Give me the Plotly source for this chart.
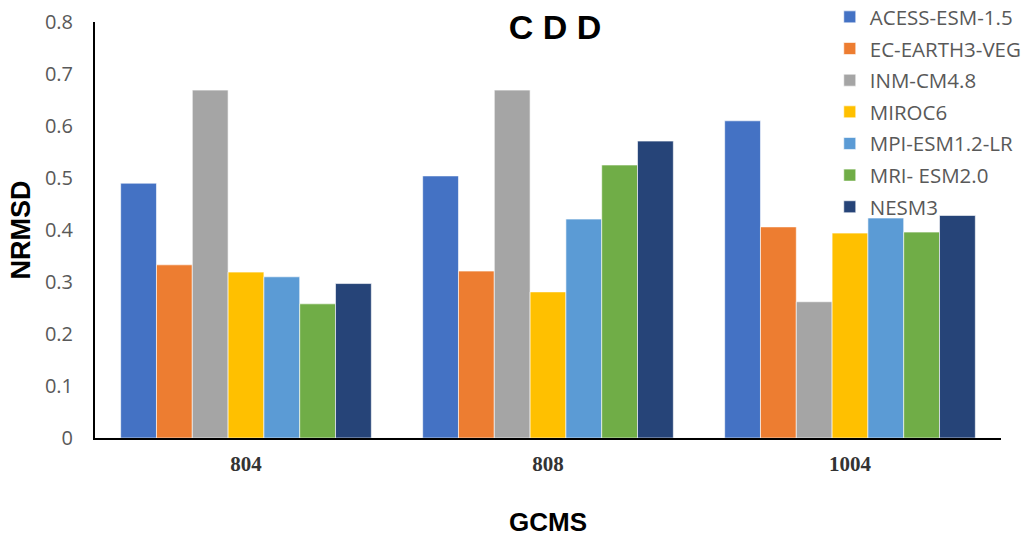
import plotly.graph_objects as go

# GCM station groups and model NRMSD scores for the CDD index
stations = ["804", "808", "1004"]
models = ["ACESS-ESM-1.5", "EC-EARTH3-VEG", "INM-CM4.8", "MIROC6",
          "MPI-ESM1.2-LR", "MRI- ESM2.0", "NESM3"]
acess = [0.490, 0.504, 0.610]
ec_earth = [0.333, 0.321, 0.406]
inm = [0.669, 0.669, 0.262]
miroc = [0.319, 0.281, 0.394]
mpi = [0.310, 0.421, 0.423]
mri = [0.258, 0.525, 0.396]
nesm = [0.297, 0.571, 0.428]
y_ticks = [0, 0.1, 0.2, 0.3, 0.4, 0.5, 0.6, 0.7, 0.8]
y_tick_text = ["0", "0.1", "0.2", "0.3", "0.4", "0.5", "0.6", "0.7", "0.8"]

series = [acess, ec_earth, inm, miroc, mpi, mri, nesm]
colors = ["#4472C4", "#ED7D31", "#A5A5A5", "#FFC000", "#5B9BD5", "#70AD47", "#264478"]

fig = go.Figure()
for name, vals, col in zip(models, series, colors):
    fig.add_trace(go.Bar(
        x=stations, y=vals, name=name, legendgroup=name,
        marker=dict(color=col, line=dict(color="rgba(255,255,255,0.6)", width=1)),
    ))

fig.update_layout(
    width=1026, height=537,
    margin=dict(l=95, r=25, t=22, b=99, autoexpand=False),
    paper_bgcolor="white", plot_bgcolor="white",
    barmode="group", bargap=0.17, bargroupgap=0,
    title=dict(text="<b>C D D</b>", x=(555 - 95) / 906, xref="paper", xanchor="center",
               y=0.95, yanchor="middle",
               font=dict(family="Liberation Sans, Arial, sans-serif", size=34, color="black")),
    legend=dict(x=0.811, xanchor="left", y=1.06, yanchor="top",
                bgcolor="rgba(0,0,0,0)", tracegroupgap=2,
                font=dict(family="Open Sans, sans-serif", size=20.5, color="#595959")),
    xaxis=dict(
        title=dict(text="<b>GCMS</b>", standoff=40,
                   font=dict(family="Liberation Sans, Arial, sans-serif", size=26, color="black")),
        automargin=False,
        showline=True, linecolor="black", linewidth=2, ticks="",
        tickfont=dict(family="Liberation Serif, serif", size=21, color="#333333", weight="bold"),
        ticklabelstandoff=6,
        showgrid=False,
    ),
    yaxis=dict(
        title=dict(text="<b>NRMSD</b>", standoff=6,
                   font=dict(family="Liberation Sans, Arial, sans-serif", size=27, color="black")),
        automargin=False,
        range=[0, 0.8], tickvals=y_ticks, ticktext=y_tick_text,
        showline=True, linecolor="black", linewidth=2, ticks="",
        showgrid=False, zeroline=False,
        tickfont=dict(family="Open Sans, sans-serif", size=20, color="#595959"),
        ticklabelstandoff=16,
    ),
)

fig.write_html("out.html")
